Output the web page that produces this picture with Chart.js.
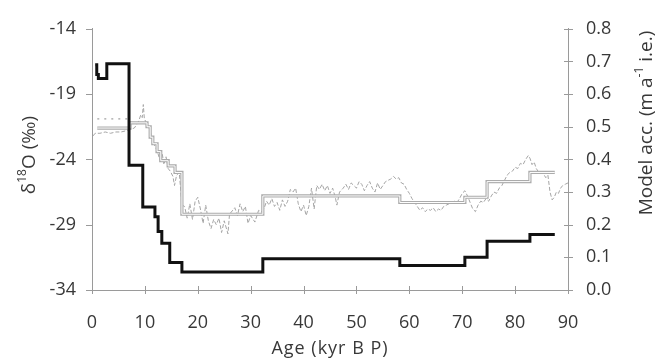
<!DOCTYPE html>
<html><head><meta charset="utf-8">
<script src="https://cdn.jsdelivr.net/npm/chart.js@4/dist/chart.umd.min.js"></script>
<style>html,body{margin:0;padding:0;background:#fff}#wrap{width:669px;height:363px}</style>
</head><body><div id="wrap"><canvas id="c" width="669" height="363"></canvas></div>
<script>
// Model accumulation (right axis), value holds from age[i] to age[i+1]
const ageAcc = [0.6, 0.9, 1.2, 2.8, 7.0, 9.6, 11.9, 12.5, 13.2, 14.7, 17.0, 32.3, 58.2, 70.5, 74.7, 82.8, 87.5];
const accModel = [0.69, 0.66, 0.648, 0.693, 0.382, 0.254, 0.224, 0.179, 0.143, 0.084, 0.055, 0.096, 0.075, 0.10, 0.149, 0.17, 0.17];
// Stepped δ18O (left axis)
const ageStep = [1.0, 7.2, 10.4, 11.0, 11.5, 12.3, 13.0, 14.4, 15.7, 17.0, 32.3, 58.2, 70.5, 74.7, 82.8, 87.5];
const d18OStep = [-21.6, -21.2, -21.5, -22.3, -22.8, -23.4, -24.1, -24.5, -25.0, -28.2, -26.8, -27.3, -26.9, -25.7, -25.0, -25.0];
// Measured δ18O record (left axis)
const ageIso = [0.2,0.6,1.5,2.5,3.5,4.5,5.5,6.5,7.2,8.0,8.5,8.9,9.2,9.5,9.7,9.9,10.3,10.8,11.3,11.8,12.3,12.8,13.3,13.6,14.0,14.4,14.8,15.3,15.6,16.0,16.5,17.0,
  17.5,18.0,18.5,19.0,19.5,20.0,20.5,21.0,21.5,22.0,22.5,23.0,23.5,24.0,24.5,25.0,25.7,26.0,27.0,27.5,28.0,28.5,29.0,29.5,30.0,30.8,31.5,32.0,
  32.5,33.0,33.5,34.0,34.5,35.0,35.5,36.0,36.5,37.0,37.5,38.0,38.5,39.0,39.5,40.0,40.5,41.0,41.5,42.0,42.5,43.0,43.5,44.0,44.5,45.0,45.5,46.0,46.3,46.8,47.5,48.0,48.5,49.0,49.5,50.0,50.5,51.0,51.5,52.0,52.5,53.0,53.5,54.0,54.5,55.0,55.5,56.0,56.5,57.0,57.5,58.0,58.5,59.0,59.5,60.0,60.5,61.0,
  61.5,62.0,62.5,63.0,63.5,64.0,64.5,65.0,65.5,66.0,66.5,67.0,67.5,68.0,68.5,69.0,69.5,70.0,70.5,71.0,71.5,72.0,72.5,73.0,73.5,74.0,74.5,75.0,75.5,76.0,76.5,77.0,77.5,78.0,78.5,79.0,79.5,80.0,80.5,81.0,81.5,82.0,82.5,82.8,83.2,83.6,84.0,84.5,85.2,85.8,86.2,86.6,87.0,87.4,87.8,88.2,88.6,89.0,89.5,90.0,90.6,91.2];
const d18OIso = [-22.2,-22.0,-22.0,-21.9,-22.0,-21.9,-21.9,-21.8,-21.7,-21.6,-21.3,-21.0,-20.6,-20.8,-19.8,-20.9,-21.2,-21.6,-22.3,-22.9,-23.3,-24.0,-23.6,-24.4,-23.8,-24.7,-24.9,-25.3,-26.0,-25.2,-25.0,-27.5,
  -27.6,-28.5,-27.4,-28.6,-27.2,-26.9,-27.8,-28.9,-27.5,-28.7,-29.3,-28.6,-29.0,-28.5,-29.6,-28.7,-29.7,-28.2,-27.7,-28.3,-27.4,-28.0,-27.6,-28.9,-28.3,-28.8,-27.9,-28.0,
  -27.8,-27.2,-27.5,-27.0,-27.6,-27.3,-27.9,-27.1,-27.6,-27.2,-26.3,-26.5,-26.2,-27.4,-28.0,-27.5,-28.3,-27.6,-26.2,-27.8,-26.0,-26.3,-25.9,-26.4,-26.0,-26.6,-26.2,-26.9,-27.5,-26.5,-26.2,-25.9,-26.3,-25.8,-26.0,-26.2,-25.7,-25.9,-26.4,-26.0,-25.7,-26.2,-26.5,-25.8,-26.3,-26.0,-25.7,-25.6,-25.5,-25.3,-25.5,-25.4,-25.8,-25.9,-26.3,-26.6,-27.0,-27.3,
  -27.6,-27.9,-27.7,-28.0,-27.8,-27.9,-27.7,-28.0,-27.8,-27.9,-27.6,-27.5,-27.4,-27.3,-27.2,-27.3,-27.0,-26.6,-26.4,-26.8,-27.3,-27.8,-28.0,-27.5,-27.2,-27.3,-27.0,-27.2,-26.8,-26.5,-26.6,-26.2,-26.0,-25.6,-25.2,-25.0,-24.9,-24.6,-24.7,-24.3,-24.4,-24.0,-23.7,-23.9,-24.4,-24.2,-24.7,-25.0,-25.0,-25.4,-25.2,-26.5,-27.1,-26.9,-26.5,-26.6,-26.2,-26.0,-25.9,-25.8,-25.7,-25.6];
// Second (upper) early Holocene record
const ageIsoUpper = [1.0, 7.0];
const d18OIsoUpper = [-20.9, -20.9];

const leftMin = -34, leftMax = -14, leftStep = 5;
const rightMin = 0, rightMax = 0.8, rightStep = 0.1;
const xMin = 0, xMax = 90, xStep = 10;

const pts = (xs, ys) => xs.map((x, i) => ({x, y: ys[i]}));
const FONT = '"Open Sans", "DejaVu Sans", sans-serif';
const TXT = '#383838';

const decor = {
  id: 'decor',
  afterDraw(chart) {
    const ctx = chart.ctx;
    const {x, y, y1} = chart.scales;
    ctx.save();
    ctx.strokeStyle = '#9a9a9a';
    ctx.lineWidth = 1;
    ctx.beginPath();
    x.ticks.forEach(t => { const p = Math.round(x.getPixelForValue(t.value)) + 0.5; ctx.moveTo(p, y.bottom - 4); ctx.lineTo(p, y.bottom + 4); });
    y.ticks.forEach(t => { const p = Math.round(y.getPixelForValue(t.value)) + 0.5; ctx.moveTo(x.left - 6, p); ctx.lineTo(x.left + 1, p); });
    y1.ticks.forEach(t => { const p = Math.round(y1.getPixelForValue(t.value)) + 0.5; ctx.moveTo(x.right - 4, p); ctx.lineTo(x.right + 5, p); });
    ctx.stroke();
    ctx.fillStyle = TXT;
    ctx.textBaseline = 'middle';
    ctx.font = '18px ' + FONT;
    ctx.textAlign = 'center';
    ctx.letterSpacing = '1px';
    ctx.fillText('Age (kyr B P)', (x.left + x.right) / 2, 349);
    function rotTitle(cx, cy, parts) {
      ctx.save();
      ctx.translate(cx, cy);
      ctx.rotate(-Math.PI / 2);
      ctx.textAlign = 'left';
      let w = 0;
      parts.forEach(p => { ctx.font = (p.sup ? '12px ' : '19px ') + FONT; w += ctx.measureText(p.t).width; });
      let px = -w / 2;
      parts.forEach(p => {
        ctx.font = (p.sup ? '12px ' : '19px ') + FONT;
        ctx.fillText(p.t, px, p.sup ? -7 : 0);
        px += ctx.measureText(p.t).width;
      });
      ctx.restore();
    }
    ctx.letterSpacing = '0px';
    rotTitle(30, 155, [{t: 'δ'}, {t: '18', sup: true}, {t: 'O (‰)'}]);
    rotTitle(647, 123, [{t: 'Model acc. (m a'}, {t: '-1', sup: true}, {t: ' i.e.)'}]);
    ctx.restore();
  }
};

new Chart(document.getElementById('c'), {
  type: 'line',
  data: {
    datasets: [
      {label: 'Model acc.', data: pts(ageAcc, accModel), yAxisID: 'y1', stepped: true, borderColor: '#111', borderWidth: 3, pointRadius: 0, fill: false, order: 0},
      {label: 'step inner', data: pts(ageStep, d18OStep), yAxisID: 'y', stepped: true, borderColor: '#ffffff', borderWidth: 1, pointRadius: 0, fill: false, order: 1},
      {label: 'step outer', data: pts(ageStep, d18OStep), yAxisID: 'y', stepped: true, borderColor: '#ababab', borderWidth: 3.2, pointRadius: 0, fill: false, order: 2},
      {label: 'upper record', data: pts(ageIsoUpper, d18OIsoUpper), yAxisID: 'y', borderColor: '#8a8a8a', borderWidth: 1, borderDash: [2, 5], pointRadius: 0, fill: false, order: 3},
      {label: 'δ18O', data: pts(ageIso, d18OIso), yAxisID: 'y', borderColor: '#a5a5a5', borderWidth: 1, borderDash: [4, 2], pointRadius: 0, fill: false, tension: 0, clip: false, order: 4}
    ]
  },
  options: {
    responsive: false,
    animation: false,
    events: [],
    layout: {padding: {top: 22, left: 0, right: 0, bottom: 0}},
    plugins: {legend: {display: false}, tooltip: {enabled: false}},
    scales: {
      x: {
        type: 'linear', min: xMin, max: xMax,
        ticks: {stepSize: xStep, color: TXT, font: {family: FONT, size: 18}, padding: 22, maxRotation: 0},
        grid: {display: false, drawTicks: false},
        border: {color: '#9a9a9a'},
        afterFit: s => { s.height = 73; }
      },
      y: {
        position: 'left', min: leftMin, max: leftMax,
        ticks: {stepSize: leftStep, color: TXT, font: {family: FONT, size: 18}, padding: 16},
        grid: {display: false, drawTicks: false},
        border: {color: '#9a9a9a'},
        afterFit: s => { s.width = 92; }
      },
      y1: {
        position: 'right', min: rightMin, max: rightMax,
        ticks: {stepSize: rightStep, color: TXT, font: {family: FONT, size: 18}, padding: 18, callback: v => v.toFixed(1)},
        grid: {display: false, drawTicks: false},
        border: {color: '#9a9a9a'},
        afterFit: s => { s.width = 101; }
      }
    }
  },
  plugins: [decor]
});
</script></body></html>
